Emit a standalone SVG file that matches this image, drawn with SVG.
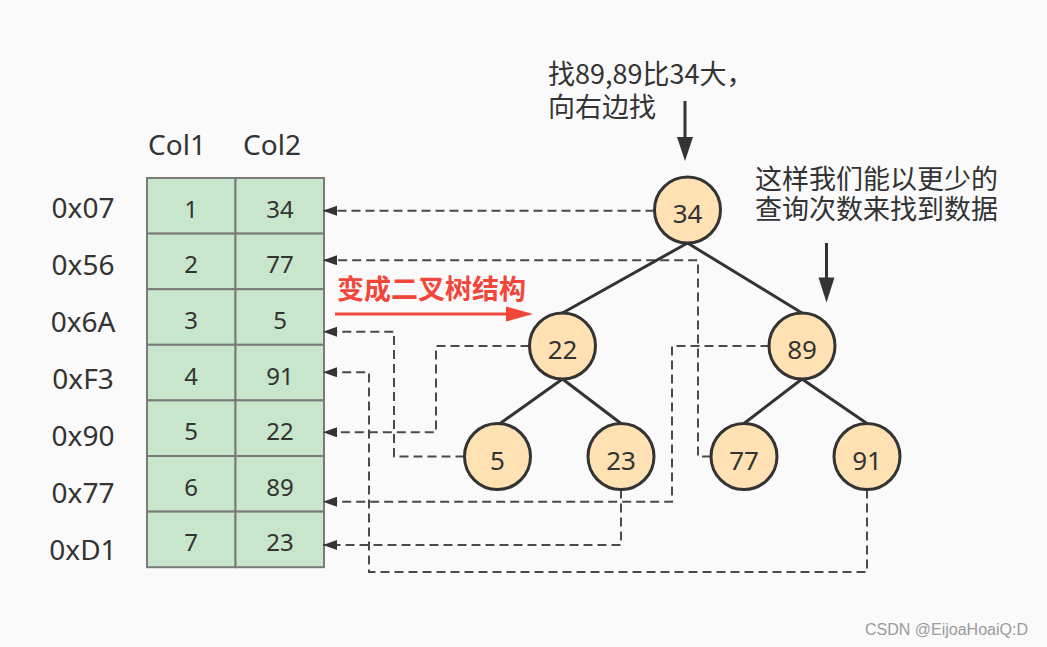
<svg xmlns="http://www.w3.org/2000/svg" width="1047" height="647" viewBox="0 0 1047 647">
<defs>
<style>
.bg{fill:#fafafa}
.cell{fill:#c8e6cb;stroke:#7a7a7a;stroke-width:2}
.ct{font-family:"Noto Sans","Noto Sans CJK SC",sans-serif;font-size:24px;fill:#333;text-anchor:middle}
.lbl{font-family:"Noto Sans","Noto Sans CJK SC",sans-serif;font-size:28px;fill:#333;text-anchor:middle}
.node{fill:#ffe1b3;stroke:#333;stroke-width:3}
.nt{font-family:"Noto Sans","Noto Sans CJK SC",sans-serif;font-size:26px;fill:#333;text-anchor:middle}
.edge{stroke:#333;stroke-width:3;fill:none}
.dash{stroke:#4a4a4a;stroke-width:2;fill:none;stroke-dasharray:9 5;marker-end:url(#ah)}
.ann{font-family:"Noto Sans CJK SC","Noto Sans",sans-serif;font-size:27px;fill:#333}
.red{font-family:"Noto Sans CJK SC","Noto Sans",sans-serif;font-size:27px;font-weight:bold;fill:#f2463a}
</style>
<marker id="ah" markerUnits="userSpaceOnUse" markerWidth="15" markerHeight="11" refX="14" refY="5" orient="auto">
<path d="M0,0 L14,5 L0,10 z" fill="#333"/>
</marker>
</defs>
<rect class="bg" x="0" y="0" width="1047" height="647"/>

<g id="headers">
<text class="lbl" x="177" y="155">Col1</text>
<text class="lbl" x="272" y="155">Col2</text>
</g>

<g id="row-labels">
<text class="lbl" x="83" y="218">0x07</text>
<text class="lbl" x="83" y="275">0x56</text>
<text class="lbl" x="83" y="332">0x6A</text>
<text class="lbl" x="83" y="389">0xF3</text>
<text class="lbl" x="83" y="446">0x90</text>
<text class="lbl" x="83" y="503">0x77</text>
<text class="lbl" x="83" y="560">0xD1</text>
</g>

<g id="table">
<rect class="cell" x="147" y="178" width="88.5" height="55.6"/>
<rect class="cell" x="235.5" y="178" width="88.5" height="55.6"/>
<rect class="cell" x="147" y="233.6" width="88.5" height="55.6"/>
<rect class="cell" x="235.5" y="233.6" width="88.5" height="55.6"/>
<rect class="cell" x="147" y="289.2" width="88.5" height="55.6"/>
<rect class="cell" x="235.5" y="289.2" width="88.5" height="55.6"/>
<rect class="cell" x="147" y="344.8" width="88.5" height="55.6"/>
<rect class="cell" x="235.5" y="344.8" width="88.5" height="55.6"/>
<rect class="cell" x="147" y="400.4" width="88.5" height="55.6"/>
<rect class="cell" x="235.5" y="400.4" width="88.5" height="55.6"/>
<rect class="cell" x="147" y="456" width="88.5" height="55.6"/>
<rect class="cell" x="235.5" y="456" width="88.5" height="55.6"/>
<rect class="cell" x="147" y="511.6" width="88.5" height="55.6"/>
<rect class="cell" x="235.5" y="511.6" width="88.5" height="55.6"/>
<text class="ct" x="191" y="217.7">1</text><text class="ct" x="280" y="217.7">34</text>
<text class="ct" x="191" y="273.3">2</text><text class="ct" x="280" y="273.3">77</text>
<text class="ct" x="191" y="328.9">3</text><text class="ct" x="280" y="328.9">5</text>
<text class="ct" x="191" y="384.5">4</text><text class="ct" x="280" y="384.5">91</text>
<text class="ct" x="191" y="440.1">5</text><text class="ct" x="280" y="440.1">22</text>
<text class="ct" x="191" y="495.7">6</text><text class="ct" x="280" y="495.7">89</text>
<text class="ct" x="191" y="551.3">7</text><text class="ct" x="280" y="551.3">23</text>
</g>

<g id="connectors">
<path class="dash" d="M654.5,210.7 H323"/>
<path class="dash" d="M711,456.5 H698 V260.3 H323"/>
<path class="dash" d="M464.5,456.5 H394 V331.7 H323"/>
<path class="dash" d="M867,489.5 V572 H369 V372.3 H323"/>
<path class="dash" d="M529.5,346 H436 V432.3 H323"/>
<path class="dash" d="M769.5,346 H672 V501.7 H323"/>
<path class="dash" d="M621,489.5 V545 H323"/>
<line class="edge" x1="687.5" y1="243" x2="562.5" y2="313"/>
<line class="edge" x1="687.5" y1="243" x2="802" y2="313"/>
<line class="edge" x1="562.5" y1="379" x2="500" y2="423.5"/>
<line class="edge" x1="562.5" y1="379" x2="621" y2="423.5"/>
<line class="edge" x1="802" y1="379" x2="744" y2="423.5"/>
<line class="edge" x1="802" y1="379" x2="867" y2="423.5"/>
</g>

<g id="node-34"><circle class="node" cx="687.5" cy="210" r="33"/><text class="nt" x="687.5" y="223">34</text></g>
<g id="node-22"><circle class="node" cx="562.5" cy="346" r="33"/><text class="nt" x="562.5" y="359">22</text></g>
<g id="node-89"><circle class="node" cx="802" cy="346" r="33"/><text class="nt" x="802" y="359">89</text></g>
<g id="node-5"><circle class="node" cx="497.5" cy="456.5" r="33"/><text class="nt" x="497.5" y="469.5">5</text></g>
<g id="node-23"><circle class="node" cx="621" cy="456.5" r="33"/><text class="nt" x="621" y="469.5">23</text></g>
<g id="node-77"><circle class="node" cx="744" cy="456.5" r="33"/><text class="nt" x="744" y="469.5">77</text></g>
<g id="node-91"><circle class="node" cx="867" cy="456.5" r="33"/><text class="nt" x="867" y="469.5">91</text></g>

<g id="transform-label">
<text class="red" x="337" y="299">变成二叉树结构</text>
<line x1="335" y1="314" x2="508" y2="314" stroke="#f2463a" stroke-width="3"/>
<polygon points="506,306.5 533,314 506,321.5" fill="#f2463a"/>
</g>

<g id="annotation-search">
<text class="ann" x="548" y="84">找89,89比34大，</text>
<text class="ann" x="548" y="117">向右边找</text>
<line x1="685" y1="101" x2="685" y2="140" stroke="#333" stroke-width="3"/>
<polygon points="677,137 693,137 685,161" fill="#333"/>
</g>

<g id="annotation-fewer">
<text class="ann" x="755" y="189">这样我们能以更少的</text>
<text class="ann" x="755" y="219">查询次数来找到数据</text>
<line x1="826.5" y1="243" x2="826.5" y2="280" stroke="#333" stroke-width="3"/>
<polygon points="818.5,277.5 834.5,277.5 826.5,302.5" fill="#333"/>
</g>

<text x="865" y="635" font-family="Liberation Sans, Arial, sans-serif" font-size="16" fill="#9a9a9a">CSDN @EijoaHoaiQ:D</text>
</svg>
